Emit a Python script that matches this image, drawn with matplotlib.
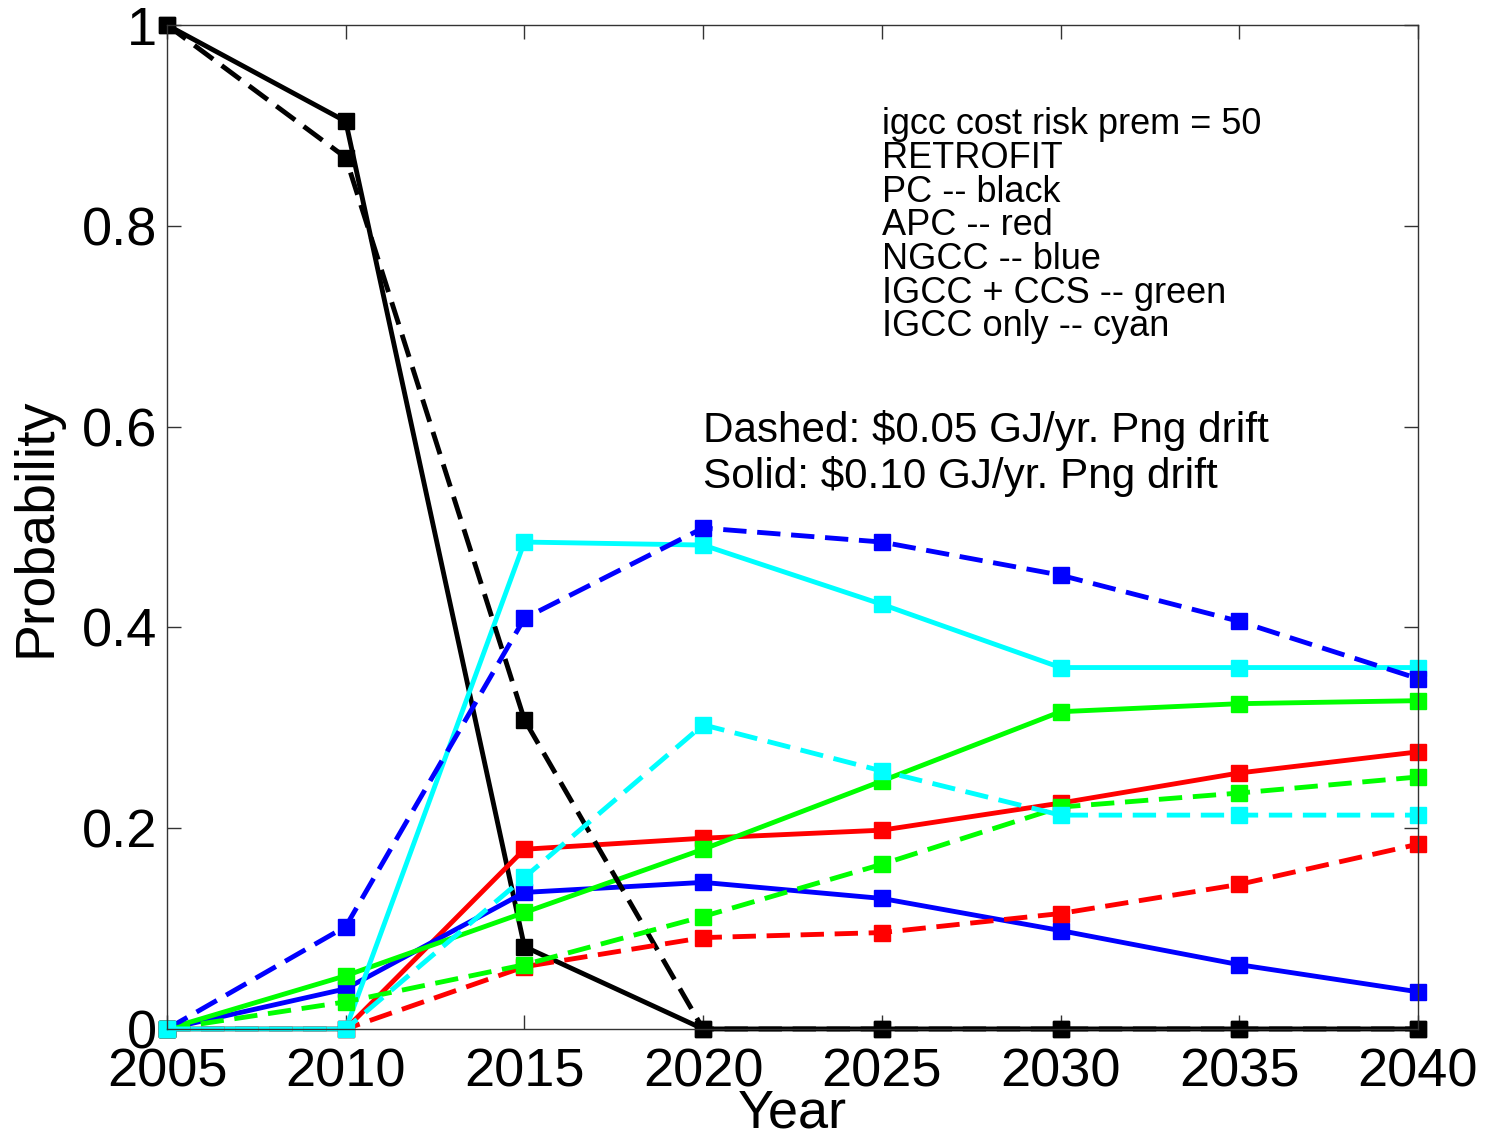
import matplotlib
matplotlib.use("Agg")
import matplotlib.pyplot as plt

plt.rcParams['font.family'] = ['Liberation Sans', 'DejaVu Sans']

years = [2005, 2010, 2015, 2020, 2025, 2030, 2035, 2040]

# Solid lines: $0.10 GJ/yr natural gas price drift
pc_solid = [1.0, 0.904, 0.082, 0.0, 0.0, 0.0, 0.0, 0.0]
apc_solid = [0.0, 0.0, 0.179, 0.190, 0.198, 0.225, 0.255, 0.276]
ngcc_solid = [0.0, 0.040, 0.136, 0.146, 0.130, 0.098, 0.064, 0.037]
igcc_ccs_solid = [0.0, 0.053, 0.116, 0.179, 0.247, 0.316, 0.324, 0.327]
igcc_only_solid = [0.0, 0.0, 0.485, 0.482, 0.423, 0.360, 0.360, 0.360]

# Dashed lines: $0.05 GJ/yr natural gas price drift
pc_dashed = [1.0, 0.868, 0.308, 0.0, 0.0, 0.0, 0.0, 0.0]
apc_dashed = [0.0, 0.0, 0.062, 0.091, 0.096, 0.115, 0.144, 0.184]
ngcc_dashed = [0.0, 0.102, 0.409, 0.499, 0.485, 0.452, 0.406, 0.349]
igcc_ccs_dashed = [0.0, 0.027, 0.064, 0.112, 0.164, 0.221, 0.235, 0.251]
igcc_only_dashed = [0.0, 0.0, 0.151, 0.303, 0.257, 0.213, 0.213, 0.213]

colors = ['black', 'red', 'blue', '#00ff00', 'cyan']
solid_series = [pc_solid, apc_solid, ngcc_solid, igcc_ccs_solid, igcc_only_solid]
dashed_series = [pc_dashed, apc_dashed, ngcc_dashed, igcc_ccs_dashed, igcc_only_dashed]

x_ticks = [2005, 2010, 2015, 2020, 2025, 2030, 2035, 2040]
y_ticks = [0, 0.2, 0.4, 0.6, 0.8, 1.0]
y_tick_labels = ['0', '0.2', '0.4', '0.6', '0.8', '1']

fig = plt.figure(figsize=(14.86, 11.48), dpi=100)
ax = fig.add_axes([0.1124, 0.1037, 0.8418, 0.8745])

lw = 3.5
for vals, c in zip(solid_series, colors):
    ax.plot(years, vals, '-', color=c, lw=lw, marker='s', markersize=11.5,
            markerfacecolor=c, markeredgecolor=c, clip_on=False)
for vals, c in zip(dashed_series, colors):
    ax.plot(years, vals, '--', color=c, lw=lw, marker='s', markersize=11.5,
            markerfacecolor=c, markeredgecolor=c, clip_on=False,
            dashes=(4.8, 2.2))

ax.set_xlim(2005, 2040)
ax.set_ylim(0, 1)
ax.set_xticks(x_ticks)
ax.set_xticklabels([str(t) for t in x_ticks])
ax.set_yticks(y_ticks)
ax.set_yticklabels(y_tick_labels)
ax.tick_params(direction='in', length=10, width=1, top=True, right=True,
               labelsize=39, color='#333333')
ax.tick_params(axis='x', pad=13)
ax.tick_params(axis='y', pad=7)
for s in ax.spines.values():
    s.set_linewidth(1.0)
    s.set_color('#333333')

ax.set_xlabel('Year', fontsize=39, labelpad=-6)
ax.set_ylabel('Probability', fontsize=40, labelpad=14)

ax.text(2025.0, 0.80,
        'igcc cost risk prem = 50\nRETROFIT\nPC -- black\nAPC -- red\n'
        'NGCC -- blue\nIGCC + CCS -- green\nIGCC only -- cyan',
        fontsize=26, va='center', ha='left', linespacing=0.95)
ax.text(2020.0, 0.573,
        'Dashed: $0.05 GJ/yr. Png drift\nSolid: $0.10 GJ/yr. Png drift',
        fontsize=30.4, va='center', ha='left', linespacing=1.15)

fig.savefig('out.png', dpi=100)
